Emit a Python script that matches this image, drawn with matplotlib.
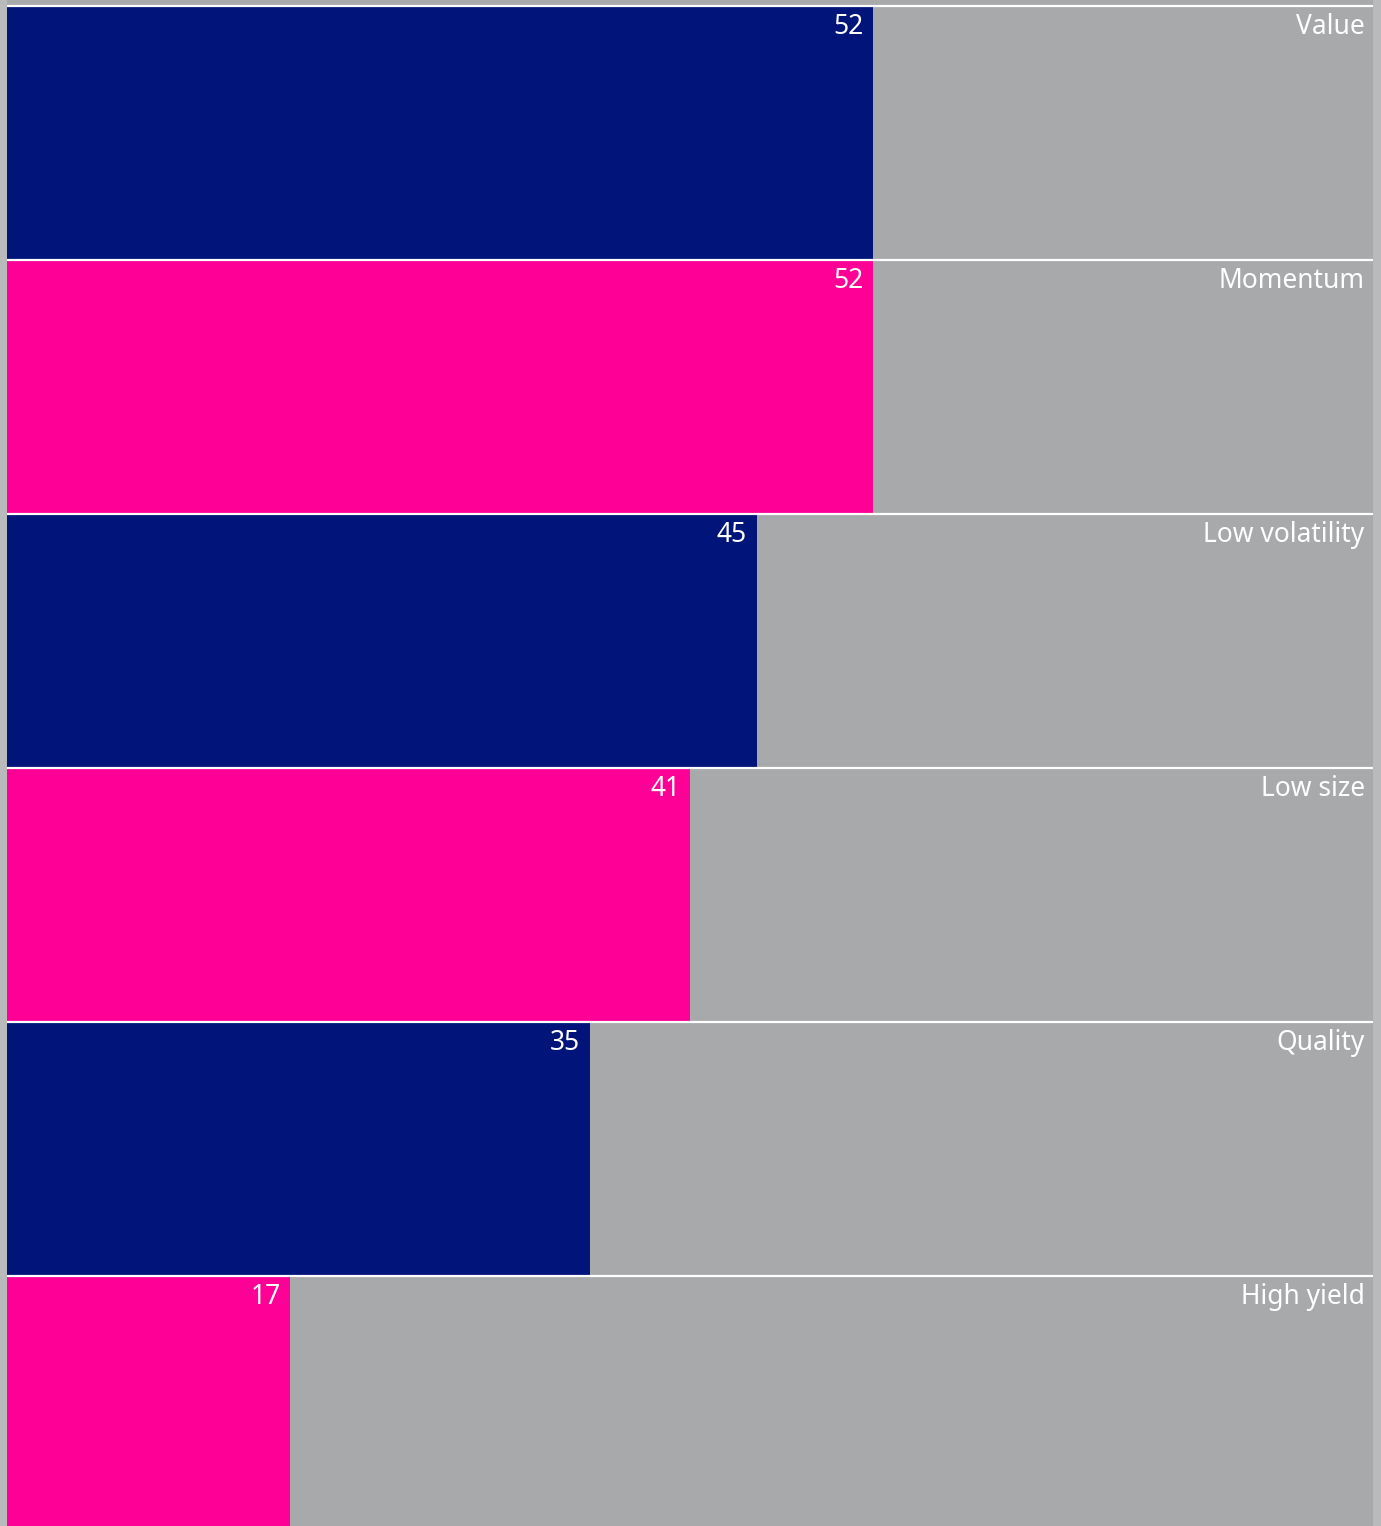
import matplotlib
matplotlib.use('Agg')
import matplotlib.pyplot as plt

categories = ['Value', 'Momentum', 'Low volatility', 'Low size', 'Quality', 'High yield']
values = [52, 52, 45, 41, 35, 17]
bar_colors = ['#001479', '#ff0096', '#001479', '#ff0096', '#001479', '#ff0096']
x_max = 82

W, H = 1381, 1526
fig = plt.figure(figsize=(W / 100, H / 100), dpi=100, facecolor='#b9babb')
ax = fig.add_axes([7 / W, 0, 1366 / W, 1])
ax.set_facecolor('#a8a9ab')

row_px = 254
top = -0.5 - 6 / row_px
ax.set_ylim(top + H / row_px, top)
ax.set_xlim(0, x_max)

ax.barh(range(len(values)), values, height=1.0, color=bar_colors, linewidth=0)
for i in range(len(values)):
    ax.axhline(i - 0.5, color='white', linewidth=1.6)

for i, (cat, v) in enumerate(zip(categories, values)):
    ax.annotate(str(v), xy=(v, i - 0.5), xytext=(-7, -5), textcoords='offset points',
                ha='right', va='top', color='white', fontsize=19, family='Noto Sans')
    ax.annotate(cat, xy=(x_max, i - 0.5), xytext=(-6, -5), textcoords='offset points',
                ha='right', va='top', color='white', fontsize=19, family='Noto Sans')

for s in ax.spines.values():
    s.set_visible(False)
ax.set_xticks([])
ax.set_yticks([])
fig.savefig('out.png', dpi=100, facecolor=fig.get_facecolor())
